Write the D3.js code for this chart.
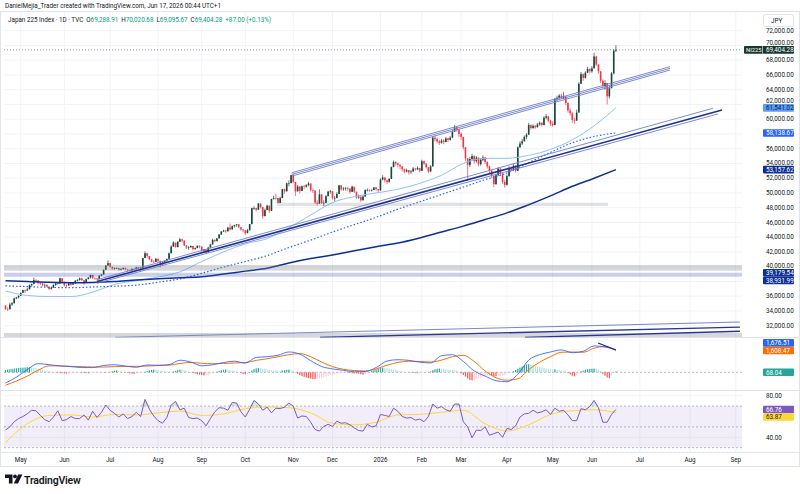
<!DOCTYPE html>
<html lang="en">
<head>
  <meta charset="utf-8">
  <title>Japan 225 Index - 1D - TVC</title>
  <style>
    html, body { margin: 0; padding: 0; background: #ffffff; }
    svg { display: block; font-family: Roboto, "Noto Sans", "Liberation Sans", sans-serif; }
  </style>
</head>
<body>

<div id="chart"></div>

<script src="https://cdn.jsdelivr.net/npm/d3@7"></script>
<script>

  ////////////////////////////////////////////////// DATA

  var firstDay = "2025-04-21";
  var axisEnd  = "2026-09-30";
  var lastDay  = "2026-06-16";

  // TSE closed days inside the loaded range
  var holidays = ["2025-04-29","2025-05-05","2025-05-06","2025-07-21","2025-08-11","2025-09-15","2025-09-23",
    "2025-10-13","2025-11-03","2025-11-24","2025-12-31","2026-01-01","2026-01-02","2026-01-12","2026-02-11",
    "2026-02-23","2026-03-20","2026-04-29","2026-05-04","2026-05-05","2026-05-06"];

  var firstOpen = 34730;

  // daily closes, one per trading day
  var closes = [
    34280,34220,34870,35040,35710,35840,36050,
    36450,36830,36780,36930,37500,37640,38180,38130,37760,37750,37500,37530,37300,36990,37160,37530,37720,37720,38430,37970,
    37470,37450,37750,37550,37740,38090,38210,38420,38170,37830,38310,38540,38890,38490,38400,38350,38790,38940,39580,40150,40490,
    39990,39760,39790,39810,39590,39690,39820,39650,39570,39460,39680,39660,39900,39820,39770,41170,41830,41460,41000,40670,40650,41070,
    40800,40290,40550,40790,41060,41820,42720,43270,42650,43380,43710,43550,42890,42610,42630,42810,42390,42520,42830,42720,
    42190,42310,41940,42580,43020,43640,43460,43840,44370,44770,44900,44790,45300,45050,45490,45630,45750,45350,45040,44930,
    44550,44940,45770,47940,47950,47730,48580,48090,46850,47670,48280,47580,49190,49320,49310,48640,49300,50510,50220,51310,51330,52410,
    51500,50210,50880,50280,50910,50840,51060,51280,50380,50320,48700,48540,49820,48630,48660,49560,50170,50250,
    49300,49300,49860,51030,50490,50580,50660,50600,50150,50840,50170,49380,49510,49000,49510,50400,50410,50340,50410,50750,50530,50340,
    51800,52100,51700,51500,51900,53500,54200,54000,53800,53600,53200,52900,53100,52800,52900,53300,53200,53400,53000,
    54300,54000,53500,52900,53600,57500,57300,57000,56800,57100,56900,57400,57200,57500,58300,58900,58600,58000,
    57600,56200,54700,53800,54600,55000,54300,54800,53900,54500,54800,54200,53600,53000,52300,51200,52400,53300,52600,51500,51100,
    52300,53400,53100,53700,53000,56200,56700,57000,57600,57900,59200,58800,59100,58900,59300,59500,59200,60200,60400,59800,59400,
    59200,62700,62900,63200,62900,63100,62200,61200,60800,59900,59800,60900,64800,66100,65600,66300,66800,66500,
    66900,68500,67400,66500,65200,64500,64900,63100,64200,66200,69288.91,69404.28
  ];

  var highs = [
    34800,34500,35120,35200,35800,35900,36100,
    36500,36890,36900,37100,37600,37700,38500,38300,37900,37900,37700,37700,37600,37200,37300,37600,37850,37900,38500,38200,
    37800,37600,37800,37800,37800,38200,38300,38530,38500,37900,38400,38600,38900,38700,38500,38500,38800,39000,39600,40200,40850,
    40300,39900,39900,39900,39800,39800,39900,39900,39700,39600,39800,39800,40000,40000,40000,41200,42070,41700,41300,40900,40900,41200,
    40900,40400,40700,40800,41100,41900,42900,43450,43100,43450,43880,43800,43300,42800,42800,42900,42600,42600,42900,42900,
    42400,42400,42100,42700,43100,43800,43700,43900,44400,44800,45000,45000,45400,45850,45600,45700,45800,45600,45300,45100,
    44700,45100,45800,48000,48200,48000,48600,48300,47500,47900,48400,47900,49200,49600,49900,49200,49500,50550,50600,51400,51700,52450,
    52640,51200,51100,50600,51000,51100,51200,51500,50900,50600,49800,49000,50500,49700,49000,49700,50300,50400,
    49800,49600,50100,51100,50900,50800,50800,50800,50500,51000,50600,49800,49800,49400,49700,50500,50600,50500,50500,50800,50700,50500,
    52000,52400,52000,51800,52000,53600,54400,54300,54100,53900,53500,53300,53300,53100,53100,53500,53400,53600,53300,
    54500,54400,54000,53400,53800,57700,57800,57500,57200,57300,57300,57600,57500,57700,58500,59200,59000,58700,
    58200,57500,56000,54600,54900,55300,55100,55000,54800,54700,55100,54900,54300,53700,53200,52400,52600,53500,53400,52700,51800,
    52500,53600,53600,53900,53800,56300,57000,57300,57800,58100,59500,59300,59300,59200,59500,59700,59600,60400,60700,60300,59900,
    59700,62900,63200,63400,63500,63700,63000,62300,61500,61000,60200,61300,65000,66400,66200,66500,67100,66900,
    67200,69000,68600,67500,66400,65400,65300,64600,64500,66400,69500,70020.68
  ];

  var lows = [
    34130,34000,34600,34700,35500,35600,35700,
    36100,36500,36400,36700,37100,37300,37900,37900,37600,37500,37300,37300,37200,36860,36900,37300,37400,37600,38000,37800,
    37300,37200,37500,37400,37500,37900,38000,38100,38100,37540,37900,38300,38400,38300,38200,38100,38500,38700,39100,39800,40200,
    39900,39600,39600,39700,39500,39500,39600,39500,39300,39300,39500,39500,39600,39700,39300,40000,41300,41200,40900,40600,40500,40800,
    40500,39900,40400,40500,40700,41300,42100,43000,42600,42900,43400,43300,42800,42400,42300,42600,42200,42300,42600,42500,
    42000,42000,41700,42200,42800,43300,43300,43500,44000,44300,44700,44600,44900,44900,45200,45300,45400,45200,44900,44700,
    44300,44600,45200,46800,47700,47500,48200,47900,46500,47200,47900,47300,48400,49100,49100,48600,48900,49900,49900,50500,50900,51500,
    51300,49600,50300,49900,50300,50500,50700,50900,50200,50000,48500,48300,49100,48500,48200,49000,49700,49900,
    49100,48900,49300,50200,50300,50300,50300,50300,49900,50300,50000,49200,49200,48800,49200,49900,50200,50200,50200,50400,50300,50100,
    51000,51700,51400,51200,51400,52800,53800,53700,53500,53200,52900,52700,52800,52500,52600,53000,53000,53100,52800,
    53200,53800,53300,52700,53000,55100,57000,56700,56500,56700,56600,56900,56900,57100,57600,58300,58300,57600,
    57200,55900,54300,51600,53500,54400,54000,54100,53600,53700,54300,53900,53300,52600,52000,50800,51100,52300,52300,51200,50700,
    51000,52200,52900,53000,52800,54000,56100,56500,57000,57300,58400,58600,58700,58700,58900,59100,59000,59600,60000,59600,59100,
    59000,60200,62500,62700,62700,62700,61900,60900,60500,59500,59400,59900,62900,65000,65200,65500,66300,66200,
    66300,67100,67200,66200,64900,64200,64000,62000,62800,64800,66100,69095.67
  ];

  // moving averages, read every 10 bars
  var maStep = 10;
  var ma50  = [36700,36100,35950,35950,36550,37600,38100,38600,39300,40700,42000,43100,43800,45300,47000,48700,
               49500,50000,50500,51300,52400,54000,54700,54700,55100,55900,57200,59100,61541.02];
  var ma100 = [37400,37300,37200,37150,37250,37350,37500,37900,38350,39100,39950,40700,41500,42600,43600,44700,
               45700,46700,47800,48800,49800,50800,51800,52700,54100,55500,56800,57650,58138.67];
  var ma200 = [38100,38000,37880,37830,37870,38000,38200,38350,38500,38650,39000,39400,39780,40500,41100,41580,
               42150,42700,43200,43900,44700,45500,46400,47300,48400,49600,50900,52000,53157.62];

  // MACD (12,26,9), read every 5 bars
  var macdStep = 5;
  var macdLine = [-790,-360,200,640,560,470,420,350,350,500,560,460,370,540,520,560,890,760,480,560,720,820,680,1100,
    1150,1260,1500,1340,860,430,250,150,40,60,350,830,930,880,750,690,1220,1300,800,100,-280,-620,-700,-150,900,1300,
    1500,1650,1450,1550,1950,1870,1676.51];
  var signalLine = [-960,-640,-280,150,480,470,440,420,390,390,420,440,440,460,500,530,650,730,660,630,650,690,720,880,
    1000,1150,1300,1380,1150,760,420,220,130,100,250,520,730,820,800,760,900,1150,1250,800,100,-400,-590,-480,200,750,
    1150,1480,1500,1480,1780,1900,1608.47];
  // histogram, one per bar
  var histogram = [
    170,200,230,260,280,300,320,340,350,360,370,370,360,340,310,
    270,230,190,150,110,80,50,20,
    -20,-40,-60,-70,-80,-90,-80,-70,-60,-50,-40,-30,-40,-50,-60,-70,-60,-50,-40,-30,-20,-10,-20,-30,-20,
    30,80,120,140,110,70,
    30,-20,-50,-80,-100,-110,-100,-80,-60,-30,
    40,90,140,180,200,190,160,130,100,80,60,40,20,
    60,110,160,200,190,150,100,
    40,-20,-60,-100,-140,-170,-200,-230,-220,-180,-130,-80,
    -20,40,100,150,190,210,200,170,140,110,70,30,
    -60,-130,-150,-110,
    20,130,230,290,320,300,260,230,200,
    180,160,150,140,130,120,130,150,180,200,170,100,
    -20,-120,-200,-280,-340,-390,-430,-470,-500,-510,-490,-460,-420,-370,-320,-270,-220,-170,-130,-100,
    -80,-60,-50,-40,-50,-60,-70,-80,-90,-110,
    -150,-180,-140,
    -60,20,100,160,220,280,320,340,330,300,260,220,180,150,120,
    80,50,30,10,-10,-30,-50,-60,-70,-60,-40,-20,10,30,60,
    150,220,260,280,270,250,220,200,190,170,140,90,30,
    -80,-200,-320,-450,-560,-600,-560,-500,-440,-380,-330,-290,-260,
    -250,-260,-280,-300,-290,-260,-220,-170,-120,-60,0,
    80,170,260,350,430,510,580,600,570,520,
    470,430,400,360,320,290,260,230,200,220,200,170,140,110,60,
    -60,-160,-250,-300,-220,-80,
    60,120,180,220,250,270,280,250,190,100,
    -120,-250,-380,-430,-250,-60,68.04
  ];

  // RSI (14), read every 2 bars, and its moving average read every 10 bars
  var rsiStep = 2;
  var rsi = [47,50,55,58,60,62.6,66,65.5,61,57, 55,59.5,65.5,56,57,60,58,58,61.5,56.5,
    65,59,64,71,66,63,59.5,62.5,58,60, 64,60,76.5,67,60.5,56,53.5,59,71,74.5,
    66.5,68,59,58,58.5,56,51,58,64.5,68.5, 68,66,73.5,73,64.5,59.5,67,75.5,72,66,
    69,63.5,68,67.5,69,73,70,58.5,60.5,60, 54.5,47.5,46,50.5,52.5,50.5,55.5,53.5,54,52,
    49,46.5,46,52.5,50,51,62,61,60,68, 65,60,58.5,59,56.5,57.5,55,60,72,68,
    69.5,66.5,65,72,72,55,50,39.5,47,46.5, 50,42,43.5,45,40,48.5,47.5,51,59.5,62.5,
    63,66,63.5,64.5,66.5,62,68,65,66,61.5, 56,56,67.5,66.5,69.5,75.5,68.5,54.5,54.5,62, 66.76];
  var rsiMaStep = 10;
  var rsiMa = [35,53,61,61.5,59.5,62,61.5,63.5,65.2,61,62.5,67.5,69.2,68.5,63.5,53.5,52,54.5,61.5,62,
    64,66,53,46,52,62,65.5,66.5,63.87];

  // drawings, anchored on [bar index, value]
  var upperChannel = [[131.3, 52745], [304.8, 67120]];
  var upperChannelGaps = [0, -230, -460];
  var lowerChannel = [
    [[42, 38240], [324.5, 61480]],
    [[42, 37990], [328.7, 61250]],
    [[42, 37760], [326.8, 60710]]
  ];
  var bottomLines = [
    [[50.3, 30420], [336.9, 32500]],
    [[144.3, 30420], [336.9, 31820]],
    [[238.3, 30420], [336.9, 31250]]
  ];
  var zones = [
    [-1, 338, 40230, 39460],
    [-1, 338, 39180, 38640],
    [124.5, 276.4, 48680, 48230],
    [-1, 338, 31010, 30470]
  ];
  var macdTrend = [[271.8, 2164], [280, 1650]];

  var priceTicks = d3.range(32000, 72001, 2000);
  var rsiTicks = [40, 80];
  var rsiBands = [70, 50, 30];

  ////////////////////////////////////////////////// SETUP

  var W = 800, H = 494;
  var plotLeft = 4, plotRight = 742;
  var pane = {
    main: { top: 11.5, bottom: 337.5 },
    macd: { top: 338, bottom: 390.5 },
    rsi:  { top: 391, bottom: 452 }
  };

  var svg = d3.select("#chart").append("svg")
              .attr("width", W)
              .attr("height", H);

  // trading days: holidays removed up to the last bar, plain weekdays after it
  var parse = d3.utcParse("%Y-%m-%d");
  var fmt = d3.utcFormat("%Y-%m-%d");
  var holidaySet = new Set(holidays);
  var days = d3.utcDays(parse(firstDay), d3.utcDay.offset(parse(axisEnd), 1)).filter(function(d) {
    var wd = d.getUTCDay();
    if (wd === 0 || wd === 6) return false;
    return d > parse(lastDay) ? true : !holidaySet.has(fmt(d));
  });

  var x  = d3.scaleLinear().domain([0, closes.length - 1]).range([5.5, 615.9]);
  var yP = d3.scaleLinear().domain([32000, 72000]).range([325.7, 30.7]);
  var yM = d3.scaleLinear().domain([0, 1676.51]).range([372.3, 349.6]);
  var yR = d3.scaleLinear().domain([40, 80]).range([437.3, 395.7]);

  var defs = svg.append("defs");
  Object.keys(pane).forEach(function(k) {
    defs.append("clipPath").attr("id", "clip-" + k)
        .append("rect")
        .attr("x", plotLeft).attr("y", pane[k].top)
        .attr("width", plotRight - plotLeft).attr("height", pane[k].bottom - pane[k].top);
  });

  // month starts for the time axis
  var monthTicks = [];
  days.forEach(function(d, i) {
    if (i === 0) return;
    if (d.getUTCMonth() !== days[i - 1].getUTCMonth()) {
      monthTicks.push({ i: i, label: d.getUTCMonth() === 0 ? String(d.getUTCFullYear()) : d3.utcFormat("%b")(d) });
    }
  });

  ////////////////////////////////////////////////// GRID + FRAME

  var grid = svg.append("g");
  grid.selectAll(".vgrid").data(monthTicks).enter().append("line")
      .attr("x1", function(d) { return x(d.i); }).attr("x2", function(d) { return x(d.i); })
      .attr("y1", pane.main.top).attr("y2", pane.rsi.bottom)
      .attr("stroke", "#f0f3fa").attr("stroke-width", 1);
  grid.selectAll(".hgrid").data(priceTicks).enter().append("line")
      .attr("x1", plotLeft).attr("x2", plotRight)
      .attr("y1", function(d) { return yP(d); }).attr("y2", function(d) { return yP(d); })
      .attr("stroke", "#f0f3fa").attr("stroke-width", 1);
  grid.selectAll(".rgrid").data(rsiTicks).enter().append("line")
      .attr("x1", plotLeft).attr("x2", plotRight)
      .attr("y1", function(d) { return yR(d); }).attr("y2", function(d) { return yR(d); })
      .attr("stroke", "#f0f3fa");

  // pane borders
  svg.append("rect").attr("x", 0.5).attr("y", 11.5).attr("width", W - 1).attr("height", 455)
     .attr("fill", "none").attr("stroke", "#e0e3eb");
  [pane.macd.top - 0.5, pane.rsi.top - 0.5, pane.rsi.bottom + 0.5].forEach(function(yy) {
    svg.append("line").attr("x1", 0).attr("x2", W).attr("y1", yy).attr("y2", yy)
       .attr("stroke", "#e0e3eb");
  });

  ////////////////////////////////////////////////// MAIN PANE

  var main = svg.append("g").attr("clip-path", "url(#clip-main)");

  // candles
  var candles = closes.map(function(c, i) {
    var o = i === 0 ? firstOpen : closes[i - 1];
    return { i: i, o: o, c: c, h: Math.max(highs[i], o, c), l: Math.min(lows[i], o, c) };
  });
  var upColor = "#1b4638", downColor = "#f23645";

  var cg = main.append("g");
  cg.selectAll(".wick").data(candles).enter().append("line")
    .attr("x1", function(d) { return x(d.i); }).attr("x2", function(d) { return x(d.i); })
    .attr("y1", function(d) { return yP(d.h); }).attr("y2", function(d) { return yP(d.l); })
    .attr("stroke", function(d) { return d.c >= d.o ? upColor : downColor; })
    .attr("stroke-width", 0.7);
  cg.selectAll(".body").data(candles).enter().append("rect")
    .attr("x", function(d) { return x(d.i) - 0.8; })
    .attr("width", 1.6)
    .attr("y", function(d) { return yP(Math.max(d.o, d.c)); })
    .attr("height", function(d) { return Math.max(0.6, Math.abs(yP(d.o) - yP(d.c))); })
    .attr("fill", function(d) { return d.c >= d.o ? upColor : downColor; });

  // moving averages
  function maPath(values, step, yScale) {
    return d3.line().x(function(d, k) { return x(k * step); })
             .y(function(d) { return yScale(d); })
             .curve(d3.curveMonotoneX)(values);
  }
  main.append("path").attr("d", maPath(ma50, maStep, yP))
      .attr("fill", "none").attr("stroke", "#90bff9").attr("stroke-width", 1);
  main.append("path").attr("d", maPath(ma100, maStep, yP))
      .attr("fill", "none").attr("stroke", "#2962ff").attr("stroke-width", 1.2)
      .attr("stroke-dasharray", "1.5,2");
  main.append("path").attr("d", maPath(ma200, maStep, yP))
      .attr("fill", "none").attr("stroke", "#0d2f95").attr("stroke-width", 1.5);

  // zones
  main.selectAll(".zone").data(zones).enter().append("rect")
      .attr("x", function(d) { return x(d[0]); })
      .attr("width", function(d) { return x(d[1]) - x(d[0]); })
      .attr("y", function(d) { return yP(d[2]); })
      .attr("height", function(d) { return yP(d[3]) - yP(d[2]); })
      .attr("fill", function(d, k) { return k === 1 ? "rgba(63,81,181,0.28)" : (k === 2 ? "rgba(120,123,134,0.22)" : "rgba(120,123,134,0.3)"); });

  // channels
  function seg(g, a, b, color, w, yScale) {
    g.append("line")
     .attr("x1", x(a[0])).attr("y1", yScale(a[1]))
     .attr("x2", x(b[0])).attr("y2", yScale(b[1]))
     .attr("stroke", color).attr("stroke-width", w);
  }
  upperChannelGaps.forEach(function(gap) {
    seg(main, [upperChannel[0][0], upperChannel[0][1] + gap], [upperChannel[1][0], upperChannel[1][1] + gap], "#6f7fc9", 0.9, yP);
  });
  lowerChannel.forEach(function(l, k) {
    seg(main, l[0], l[1], k === 1 ? "#1f3194" : "#6f7fc9", k === 1 ? 1.6 : 0.9, yP);
  });
  bottomLines.forEach(function(l, k) {
    seg(main, l[0], l[1], k === 0 ? "#7986cb" : "#283593", k === 0 ? 1 : 1.3, yP);
  });

  // last price line
  main.append("line")
      .attr("x1", plotLeft).attr("x2", plotRight)
      .attr("y1", yP(closes[closes.length - 1])).attr("y2", yP(closes[closes.length - 1]))
      .attr("stroke", "#6b7a75").attr("stroke-width", 0.8).attr("stroke-dasharray", "1,2");

  ////////////////////////////////////////////////// MACD PANE

  var mp = svg.append("g").attr("clip-path", "url(#clip-macd)");
  mp.append("line").attr("x1", plotLeft).attr("x2", plotRight)
    .attr("y1", yM(0)).attr("y2", yM(0))
    .attr("stroke", "#b2b5be").attr("stroke-dasharray", "2,2");
  mp.selectAll(".hist").data(histogram).enter().append("rect")
    .attr("x", function(d, i) { return x(i) - 0.6; })
    .attr("width", 1.2)
    .attr("y", function(d) { return Math.min(yM(d), yM(0)); })
    .attr("height", function(d) { return Math.abs(yM(d) - yM(0)); })
    .attr("fill", function(d, i) {
      var prev = i === 0 ? d : histogram[i - 1];
      if (d >= 0) return d >= prev ? "#26a69a" : "#b2dfdb";
      return d <= prev ? "#ff5252" : "#ffcdd2";
    });
  mp.append("path").attr("d", maPath(signalLine, macdStep, yM))
    .attr("fill", "none").attr("stroke", "#ff6d00").attr("stroke-width", 1);
  mp.append("path").attr("d", maPath(macdLine, macdStep, yM))
    .attr("fill", "none").attr("stroke", "#2962ff").attr("stroke-width", 1).attr("stroke-opacity", 0.85);
  seg(mp, macdTrend[0], macdTrend[1], "#1a237e", 1.2, yM);

  ////////////////////////////////////////////////// RSI PANE

  var rp = svg.append("g").attr("clip-path", "url(#clip-rsi)");
  rp.append("rect").attr("x", plotLeft).attr("width", plotRight - plotLeft)
    .attr("y", yR(70)).attr("height", yR(30) - yR(70))
    .attr("fill", "#7e57c2").attr("fill-opacity", 0.1);
  rp.selectAll(".band").data(rsiBands).enter().append("line")
    .attr("x1", plotLeft).attr("x2", plotRight)
    .attr("y1", function(d) { return yR(d); }).attr("y2", function(d) { return yR(d); })
    .attr("stroke", "#787b86").attr("stroke-opacity", 0.5).attr("stroke-dasharray", "2,2");
  rp.append("path")
    .attr("d", d3.area().x(function(d, k) { return x(k * rsiStep); })
                 .y0(yR(70)).y1(function(d) { return yR(Math.max(d, 70)); })(rsi))
    .attr("fill", "#4caf50").attr("fill-opacity", 0.25);
  rp.append("path").attr("d", maPath(rsiMa, rsiMaStep, yR))
    .attr("fill", "none").attr("stroke", "#fdd835").attr("stroke-width", 1);
  rp.append("path")
    .attr("d", d3.line().x(function(d, k) { return x(k * rsiStep); }).y(function(d) { return yR(d); })(rsi))
    .attr("fill", "none").attr("stroke", "#7e57c2").attr("stroke-width", 1);

  ////////////////////////////////////////////////// PRICE SCALE

  var axisText = { size: 6.3, color: "#131722" };
  var f2 = d3.format(",.2f");
  var lastClose = closes[closes.length - 1];
  var badgeH = 7.6;

  // value badges, pushed apart when they overlap
  function stackBadges(list, dir) {
    list.sort(function(a, b) { return a.y - b.y; });
    var k;
    if (dir > 0) {
      for (k = 1; k < list.length; k++) if (list[k].y - list[k - 1].y < badgeH) list[k].y = list[k - 1].y + badgeH;
    } else {
      for (k = list.length - 2; k >= 0; k--) if (list[k + 1].y - list[k].y < badgeH) list[k].y = list[k + 1].y - badgeH;
    }
    return list;
  }
  var badges = [].concat(
    stackBadges([
      { y: yP(ma50[ma50.length - 1]),   text: f2(ma50[ma50.length - 1]),   fill: "#5b9cf6", color: "#0c1a4a" },
      { y: yP(ma100[ma100.length - 1]), text: f2(ma100[ma100.length - 1]), fill: "#2962ff", color: "#ffffff" },
      { y: yP(ma200[ma200.length - 1]), text: f2(ma200[ma200.length - 1]), fill: "#0d2f95", color: "#ffffff" },
      { y: yP(39179.54), text: f2(39179.54), fill: "#0d2f95", color: "#ffffff" },
      { y: yP(38931.99), text: f2(38931.99), fill: "#0d2f95", color: "#ffffff" }
    ], 1),
    stackBadges([
      { y: yM(macdLine[macdLine.length - 1]),     text: f2(macdLine[macdLine.length - 1]),     fill: "#2962ff", color: "#ffffff" },
      { y: yM(signalLine[signalLine.length - 1]), text: f2(signalLine[signalLine.length - 1]), fill: "#ff6d00", color: "#ffffff" }
    ], -1),
    [{ y: yM(0), text: f2(histogram[histogram.length - 1]), fill: "#26a69a", color: "#ffffff" }],
    stackBadges([
      { y: yR(rsi[rsi.length - 1]),     text: f2(rsi[rsi.length - 1]),     fill: "#7e57c2", color: "#ffffff" },
      { y: yR(rsiMa[rsiMa.length - 1]), text: f2(rsiMa[rsiMa.length - 1]), fill: "#fdd835", color: "#131722" }
    ], 1)
  );
  var lastBadgeY = yP(lastClose);
  var occupied = badges.map(function(b) { return b.y; }).concat([lastBadgeY]);

  // tick labels: hidden under a badge, or nudged clear of one
  function tickY(t) {
    for (var k = 0; k < occupied.length; k++) {
      var b = occupied[k];
      if (Math.abs(t - b) < 3) return null;
      var top = b - badgeH / 2, bot = b + badgeH / 2;
      if (t + 3.2 > top && t - 2.8 < bot) t = t < b ? top - 3.3 : bot + 2.9;
    }
    return t;
  }
  var ticks = priceTicks.map(function(v) { return { v: v, y: tickY(yP(v)) }; })
               .concat(rsiTicks.map(function(v) { return { v: v, y: tickY(yR(v)) }; }))
               .filter(function(d) { return d.y !== null; });
  svg.selectAll(".ptick").data(ticks).enter().append("text")
     .attr("x", 766).attr("y", function(d) { return d.y + 2.2; })
     .attr("font-size", axisText.size).attr("fill", axisText.color)
     .text(function(d) { return f2(d.v); });

  badges.forEach(function(b) {
    svg.append("rect").attr("x", 763).attr("y", b.y - badgeH / 2).attr("width", 31).attr("height", badgeH).attr("rx", 1)
       .attr("fill", b.fill);
    svg.append("text").attr("x", 766).attr("y", b.y + 2.2).attr("font-size", axisText.size)
       .attr("fill", b.color).text(b.text);
  });

  // last price badge with symbol tag
  svg.append("rect").attr("x", 744).attr("y", lastBadgeY - badgeH / 2).attr("width", 50).attr("height", badgeH).attr("rx", 1).attr("fill", "#17392f");
  svg.append("line").attr("x1", 762.5).attr("x2", 762.5).attr("y1", lastBadgeY - badgeH / 2).attr("y2", lastBadgeY + badgeH / 2).attr("stroke", "#ffffff").attr("stroke-width", 0.6);
  svg.append("text").attr("x", 746).attr("y", lastBadgeY + 2.2).attr("font-size", 5.8).attr("fill", "#ffffff").text("NI225");
  svg.append("text").attr("x", 766).attr("y", lastBadgeY + 2.2).attr("font-size", axisText.size).attr("fill", "#ffffff").text(f2(lastClose));

  // JPY box
  svg.append("rect").attr("x", 763.5).attr("y", 14.5).attr("width", 30).attr("height", 12).attr("rx", 2)
     .attr("fill", "#fff").attr("stroke", "#e0e3eb");
  svg.append("text").attr("x", 771).attr("y", 22.8).attr("font-size", 6.3).attr("fill", axisText.color).text("JPY");

  ////////////////////////////////////////////////// TIME SCALE

  svg.selectAll(".ttick").data(monthTicks).enter().append("text")
     .attr("x", function(d) { return x(d.i); }).attr("y", 461.5)
     .attr("text-anchor", "middle")
     .attr("font-size", axisText.size).attr("fill", axisText.color)
     .text(function(d) { return d.label; });

  ////////////////////////////////////////////////// HEADER + FOOTER

  svg.append("text").attr("x", 5).attr("y", 8.3).attr("font-size", 6.3).attr("fill", "#131722")
     .text("DanielMejia_Trader created with TradingView.com, Jun 17, 2026 00:44 UTC+1");

  var legend = svg.append("text").attr("x", 8).attr("y", 21.5).attr("font-size", 6.3).attr("fill", "#131722");
  legend.append("tspan").text("Japan 225 Index · 1D · TVC");
  var ohlc = [["O", "69,288.91"], ["H", "70,020.68"], ["L", "69,095.67"], ["C", "69,404.28"]];
  ohlc.forEach(function(p) {
    legend.append("tspan").attr("dx", 3).text(p[0]);
    legend.append("tspan").attr("fill", "#089981").text(p[1]);
  });
  legend.append("tspan").attr("dx", 3).attr("fill", "#089981").text("+87.00 (+0.13%)");

  var logo = svg.append("g").attr("fill", "#131722");
  logo.append("path").attr("d", "M5 474.5h7.5v9h-3.6v-5.6H5z");
  logo.append("circle").attr("cx", 15).attr("cy", 476.4).attr("r", 1.9);
  logo.append("path").attr("d", "M18.2 474.5h4.2l-4.4 9h-4.2z");
  logo.append("text").attr("x", 24).attr("y", 483.5).attr("font-size", 10.5).attr("font-weight", 600)
      .attr("letter-spacing", -0.2).text("TradingView");

</script>
</body>
</html>
